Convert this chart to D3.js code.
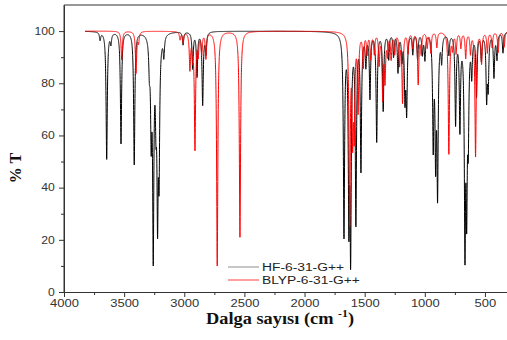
<!DOCTYPE html>
<html>
<head>
<meta charset="utf-8">
<script src="https://cdn.jsdelivr.net/npm/d3@7"></script>
<style>
  html, body { margin: 0; padding: 0; background: #fff; }
  svg { display: block; }
</style>
</head>
<body>
<svg id="chart" width="507" height="340"></svg>
<script>
// Calculated IR bands: wavenumber (cm-1) and band depth (% of full transmission)
const hfPositions = [3700, 3645, 3610, 3526, 3416, 3290, 3275, 3258, 3235, 3222, 3210, 3170,
  3010, 2930, 2894, 2847, 2820,
  1672, 1631, 1617, 1573, 1531, 1490, 1456, 1400, 1346, 1300, 1260, 1223, 1190, 1165, 1151,
  1100, 1060, 1020, 999, 930, 910, 894, 860, 800, 744, 708, 666, 652, 639, 610, 570, 530,
  486, 473, 425, 400, 350];
const hfDepths = [3, 49, 4, 43, 51, 12, 40, 89, 30, 75, 55, 8,
  5, 14, 17, 28, 8,
  79, 77, 90, 74, 53, 12, 25, 42, 30, 10, 9, 15, 10, 25, 30,
  8, 10, 8, 10, 44, 50, 63, 10, 8, 35, 37, 88, 72, 40, 15, 24, 10,
  25, 20, 17, 10, 8];

const blypPositions = [3520, 3401, 3380, 3035, 3010, 2953, 2930, 2911, 2884, 2855, 2820,
  2726, 2537,
  1625, 1600, 1587, 1555, 1512, 1480, 1450, 1420, 1380, 1350, 1331, 1310, 1280, 1250, 1210,
  1185, 1140, 1100, 1055, 1030, 980, 950, 900, 800, 770, 740, 700, 660, 620, 578, 528, 480,
  440, 390, 340];
const blypDepths = [11, 16, 4, 3, 4, 14, 8, 45, 8, 8, 10,
  90, 79,
  74, 40, 38, 30, 13, 8, 10, 8, 12, 25, 18, 8, 10, 8, 12,
  27, 8, 6, 20, 8, 6, 8, 6, 47, 6, 8, 6, 10, 8, 48, 12, 8,
  6, 8, 6];

const seriesNames = ["HF-6-31-G++", "BLYP-6-31-G++"];
const seriesColors = ["#000000", "#ff0000"];

const xTicks = [4000, 3500, 3000, 2500, 2000, 1500, 1000, 500];
const yTicks = [0, 20, 40, 60, 80, 100];

// Spectral range and Lorentzian half width used to broaden the bands
const scanStart = 3825, scanEnd = 300, halfWidth = 6;

function spectrum(positions, depths) {
  const pts = [];
  for (let w = scanStart; w >= scanEnd; w -= 0.5) {
    let t = 1;
    for (let i = 0; i < positions.length; i++) {
      const u = (w - positions[i]) / halfWidth;
      t *= 1 - (depths[i] / 100) / (1 + u * u);
    }
    pts.push([w, 100 * t]);
  }
  return pts;
}

const svg = d3.select("#chart");
const plotLeft = 64, plotRight = 509, plotTop = 5, plotBottom = 292;

const x = d3.scaleLinear().domain([4000, 300]).range([plotLeft, plotRight]);
const y = d3.scaleLinear().domain([0, 110]).range([plotBottom, plotTop]);

svg.append("defs").append("clipPath").attr("id", "plotClip")
  .append("rect").attr("x", plotLeft).attr("y", plotTop)
  .attr("width", plotRight - plotLeft).attr("height", plotBottom - plotTop);

const line = d3.line().x(d => x(d[0])).y(d => y(d[1]));

const plot = svg.append("g").attr("clip-path", "url(#plotClip)");
const data = [spectrum(hfPositions, hfDepths), spectrum(blypPositions, blypDepths)];
data.forEach((pts, i) => {
  plot.append("path")
    .datum(pts)
    .attr("d", line)
    .attr("fill", "none")
    .attr("stroke", seriesColors[i])
    .attr("stroke-width", 1)
    .attr("stroke-linejoin", "round");
});

const axisColor = "#333";
const tickFont = "'Liberation Sans', Arial, sans-serif";

// Bottom axis with minor ticks; labels are set in a widened face
const xAxis = d3.axisBottom(x).tickValues(xTicks).tickSize(5).tickSizeOuter(0).tickPadding(3)
  .tickFormat(d3.format("d"));
svg.append("g").attr("class", "x-axis").attr("transform", `translate(0,${plotBottom})`).call(xAxis);
const xMinor = d3.range(3750, 300, -500);
svg.append("g").attr("transform", `translate(0,${plotBottom})`)
  .call(d3.axisBottom(x).tickValues(xMinor).tickSize(3).tickFormat(""))
  .call(g => g.select(".domain").remove());

// Left axis with minor ticks
const yAxis = d3.axisLeft(y).tickValues(yTicks).tickSize(5).tickSizeOuter(0).tickPadding(4);
svg.append("g").attr("class", "y-axis").attr("transform", `translate(${plotLeft},0)`).call(yAxis);
svg.append("g").attr("transform", `translate(${plotLeft},0)`)
  .call(d3.axisLeft(y).tickValues([10, 30, 50, 70, 90]).tickSize(3).tickFormat(""))
  .call(g => g.select(".domain").remove());

svg.selectAll(".domain, .tick line").attr("stroke", axisColor).attr("stroke-width", 1);
svg.selectAll(".tick text").attr("fill", "#333").style("font-family", tickFont).style("font-size", "10px");
svg.selectAll(".x-axis .tick text").attr("transform", "scale(1.3,1)");
svg.selectAll(".y-axis .tick text").attr("x", -7.5).attr("transform", "scale(1.22,1)");

// Full-height y axis line and top frame line
svg.append("line").attr("x1", plotLeft).attr("x2", plotLeft).attr("y1", plotTop).attr("y2", plotBottom)
  .attr("stroke", axisColor);
svg.append("line").attr("x1", plotLeft).attr("x2", plotRight).attr("y1", plotTop).attr("y2", plotTop)
  .attr("stroke", axisColor);

// Axis titles
const titleFont = "'Liberation Serif', 'Times New Roman', serif";
const xt = svg.append("text")
  .attr("transform", "translate(280,324) scale(1.08,1)")
  .attr("text-anchor", "middle")
  .style("font-family", titleFont).style("font-weight", "bold").style("font-size", "17px")
  .attr("fill", "#111");
xt.append("tspan").text("Dalga sayısı (cm ");
xt.append("tspan").attr("dy", -7).style("font-size", "11px").text("-1");
xt.append("tspan").attr("dy", 7).text(")");

svg.append("text")
  .attr("transform", "translate(21,168) rotate(-90)")
  .attr("text-anchor", "middle")
  .style("font-family", titleFont).style("font-weight", "bold").style("font-size", "16px")
  .attr("fill", "#111")
  .text("% T");

// Legend
const legend = svg.append("g");
seriesNames.forEach((name, i) => {
  const ly = 267 + i * 13;
  legend.append("line")
    .attr("x1", 228).attr("x2", 259).attr("y1", ly).attr("y2", ly)
    .attr("stroke", seriesColors[i]).attr("stroke-opacity", i === 0 ? 0.3 : 0.5)
    .attr("stroke-width", 1.5);
  legend.append("text")
    .attr("transform", `translate(262,${ly}) scale(1.38,1)`)
    .attr("dy", "0.35em")
    .style("font-family", tickFont).style("font-size", "10px")
    .attr("fill", "#222")
    .text(name);
});
</script>
</body>
</html>
